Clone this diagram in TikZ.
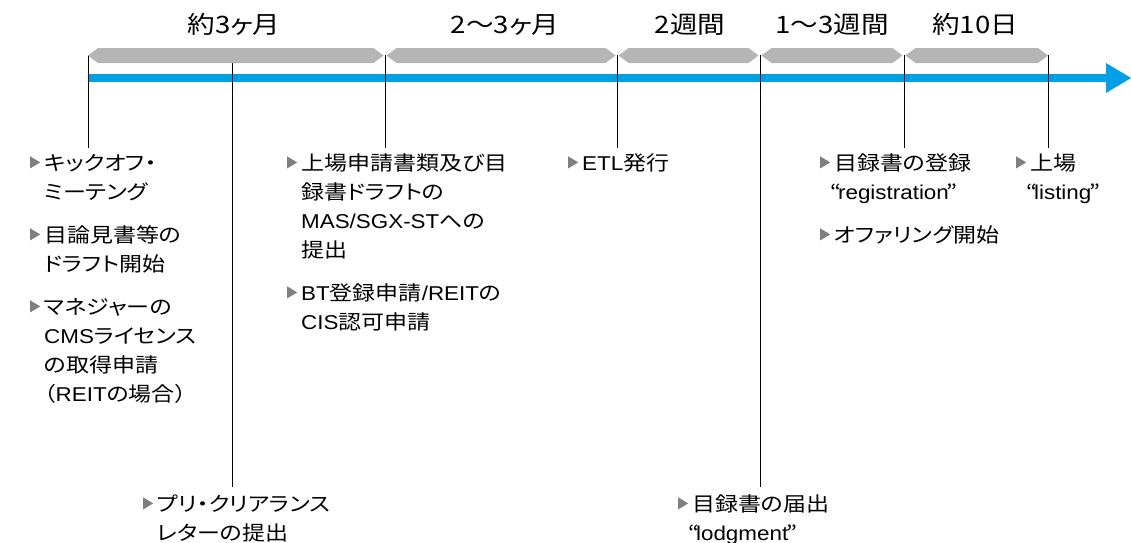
\documentclass[tikz,border=0pt]{standalone}
\usepackage{fontspec}
\setmainfont{Noto Sans CJK JP}[RawFeature={+palt},FakeStretch=1.15]
\newfontfamily\lat{Liberation Sans}[FakeStretch=1.12]
\definecolor{tlblue}{HTML}{00A0E9}
\definecolor{bandgray}{HTML}{B5B5B5}
\definecolor{trigray}{HTML}{7F7F7F}
\newcommand\tri{\tikz[baseline=0pt]{\fill[trigray] (0pt,1.6pt) -- (0pt,13.6pt) -- (10pt,7.6pt) -- cycle; \path (14pt,0pt);}}
\newcommand\ind{\hspace*{14pt}}
\newcommand\la[1]{{\lat #1}}
\newcommand\qt[1]{\hspace*{-4pt}“\hspace{-3pt}{\lat #1}\hspace{-2pt}”}
\tikzset{
  vline/.style={draw=black, line width=1pt},
  bandshape/.style={fill=bandgray},
  lbl/.style={font=\fontsize{24}{28}\selectfont, anchor=base, inner sep=0pt},
  item/.style={font=\fontsize{20}{29}\selectfont, anchor=base west, inner sep=0pt},
}
\newcommand\band[2]{\fill[bandshape] (#1,55.5) -- (#1+10,48) -- (#2-10,48) -- (#2,55.5) -- (#2-10,63) -- (#1+10,63) -- cycle;}
\begin{document}
\begin{tikzpicture}[x=1pt,y=-1pt]
\useasboundingbox (0,0) rectangle (1131,542);
% timeline arrow
\coordinate (tl0) at (88,78);
\coordinate (tl1) at (1107,78);
\draw[tlblue, line width=8pt] (tl0) -- (tl1);
\fill[tlblue] (1106,63) -- (1131,78) -- (1106,93) -- cycle;
% event lines
\foreach \n/\x/\b in {a/88/148, b/232/487, c/385/148, d/617/148, e/760/487, f/904/148, g/1048/148}{
  \coordinate (t\n) at (\x,55);
  \coordinate (b\n) at (\x,\b);
  \draw[vline] (t\n) -- (b\n);
}
% bands
\band{88}{383.5}
\band{386.5}{615.5}
\band{618.5}{758.5}
\band{761.5}{902.5}
\band{905.5}{1048}
% band labels
\node[lbl] (l1) at (234,33) {約3ヶ月};
\node[lbl] (l2) at (505,33) {2〜3ヶ月};
\node[lbl] (l3) at (690,33) {2週間};
\node[lbl] (l4) at (832,33) {1〜3週間};
\node[lbl] (l5) at (975,33) {約10日};
% items
\node[item] (c1) at (30,170) {\parbox[t]{250pt}{\raggedright
  \tri キックオフ・\\ \ind ミーテング\\[14pt]
  \tri 目論見書等の\\ \ind ドラフト開始\\[14pt]
  \tri マネジャーの\\ \ind \la{CMS}ライセンス\\ \ind の取得申請\\ \ind（\la{REIT}の場合）}};
\node[item] (c2) at (143,511) {\parbox[t]{250pt}{\raggedright
  \tri プリ・クリアランス\\ \ind レターの提出}};
\node[item] (c3) at (287,170) {\parbox[t]{260pt}{\raggedright
  \tri 上場申請書類及び目\\ \ind 録書ドラフトの\\ \ind \la{MAS/SGX-ST}への\\ \ind 提出\\[14pt]
  \tri \la{BT}登録申請\la{/REIT}の\\ \ind \la{CIS}認可申請}};
\node[item] (c4) at (568,170) {\parbox[t]{200pt}{\raggedright \tri \la{ETL}発行}};
\node[item] (c5) at (678,511) {\parbox[t]{200pt}{\raggedright
  \tri 目録書の届出\\ \ind \qt{lodgment}}};
\node[item] (c6) at (820,170) {\parbox[t]{200pt}{\raggedright
  \tri 目録書の登録\\ \ind \qt{registration}\\[14pt]
  \tri オファリング開始}};
\node[item] (c7) at (1016,170) {\parbox[t]{120pt}{\raggedright
  \tri 上場\\ \ind \qt{listing}}};
\end{tikzpicture}
\end{document}
